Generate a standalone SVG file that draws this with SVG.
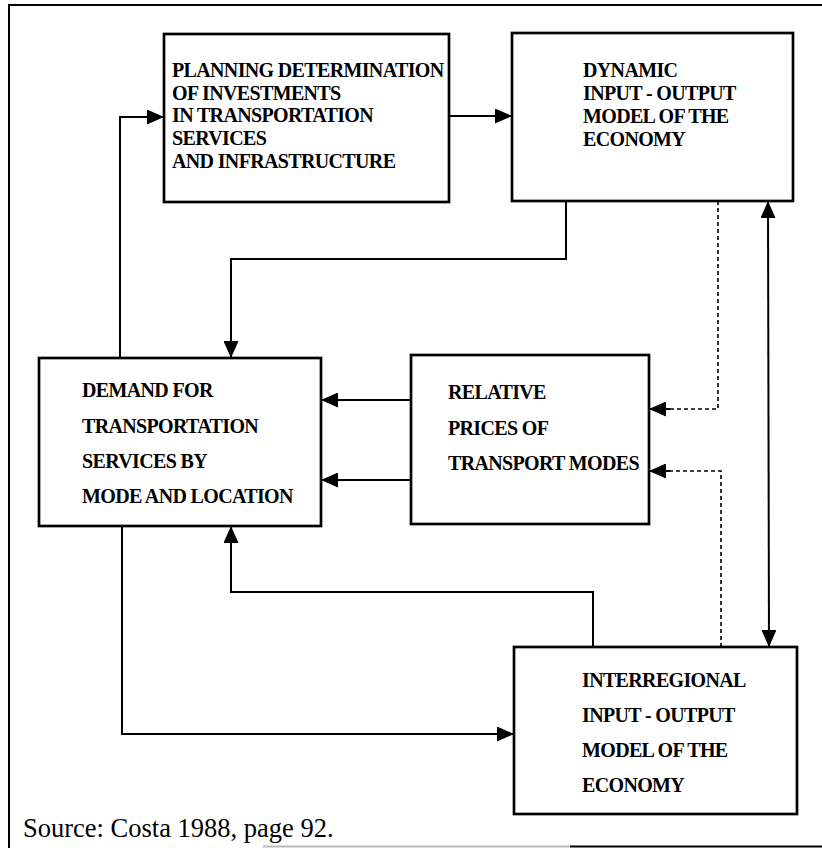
<svg xmlns="http://www.w3.org/2000/svg" width="822" height="848" viewBox="0 0 822 848">
  <style>
    .box { fill: #ffffff; stroke: #000000; stroke-width: 2.7; }
    .lbl { font-family: "Liberation Serif", "Times New Roman", serif; font-weight: bold; font-size: 20px; letter-spacing: -0.65px; fill: #000000; }
    .src { font-family: "Liberation Serif", "Times New Roman", serif; font-size: 26.5px; fill: #000000; }
    .wire { fill: none; stroke: #000000; stroke-width: 2; }
    .dash { fill: none; stroke: #000000; stroke-width: 1.6; stroke-dasharray: 4 3; }
    .frame { fill: none; stroke: #000000; stroke-width: 2; }
  </style>
  <defs>
    <marker id="head" markerUnits="userSpaceOnUse" markerWidth="18" markerHeight="15" refX="17" refY="7.5" orient="auto">
      <path d="M0,0 L17,7.5 L0,15 Z" fill="#000000"/>
    </marker>
    <marker id="tail" markerUnits="userSpaceOnUse" markerWidth="18" markerHeight="15" refX="1" refY="7.5" orient="auto">
      <path d="M18,0 L1,7.5 L18,15 Z" fill="#000000"/>
    </marker>
  </defs>

  <rect width="822" height="848" fill="#ffffff"/>

  <!-- page frame -->
  <g id="frame">
    <path class="frame" d="M9,848 L9,5 L822,5"/>
    <line x1="263" y1="846.5" x2="570" y2="846.5" stroke="#bbbbbb" stroke-width="2"/>
    <line x1="570" y1="846.5" x2="822" y2="846.5" stroke="#000000" stroke-width="2"/>
  </g>

  <!-- connectors -->
  <g id="connectors">
    <!-- demand -> planning -->
    <path class="wire" d="M120,358 L120,117 L164,117" marker-end="url(#head)"/>
    <!-- planning -> dynamic -->
    <path class="wire" d="M449,116 L512,116" marker-end="url(#head)"/>
    <!-- dynamic -> demand -->
    <path class="wire" d="M566,201 L566,259 L231,259 L231,358" marker-end="url(#head)"/>
    <!-- dynamic -> relative prices (dashed) -->
    <path class="dash" d="M718,201 L718,409 L667,409"/>
    <path class="wire" d="M670,409 L649,409" marker-end="url(#head)"/>
    <!-- interregional -> relative prices (dashed) -->
    <path class="dash" d="M721,647 L721,471 L667,471"/>
    <path class="wire" d="M670,471 L649,471" marker-end="url(#head)"/>
    <!-- dynamic <-> interregional -->
    <path class="wire" d="M768,201 L769,647" marker-start="url(#tail)" marker-end="url(#head)"/>
    <!-- relative prices -> demand -->
    <path class="wire" d="M411,400 L321,400" marker-end="url(#head)"/>
    <path class="wire" d="M411,480 L321,480" marker-end="url(#head)"/>
    <!-- interregional -> demand -->
    <path class="wire" d="M593,647 L593,592 L231,592 L231,526" marker-end="url(#head)"/>
    <!-- demand -> interregional -->
    <path class="wire" d="M122,526 L122,734 L514,734" marker-end="url(#head)"/>
  </g>

  <g id="planning">
    <rect class="box" x="164" y="34" width="285" height="168"/>
    <text class="lbl" x="172" y="77">PLANNING DETERMINATION</text>
    <text class="lbl" x="172" y="100">OF INVESTMENTS</text>
    <text class="lbl" x="172" y="122">IN TRANSPORTATION</text>
    <text class="lbl" x="172" y="145">SERVICES</text>
    <text class="lbl" x="172" y="168">AND INFRASTRUCTURE</text>
  </g>

  <g id="dynamic">
    <rect class="box" x="512" y="33" width="281" height="168"/>
    <text class="lbl" x="583" y="77">DYNAMIC</text>
    <text class="lbl" x="583" y="100">INPUT - OUTPUT</text>
    <text class="lbl" x="583" y="123">MODEL OF THE</text>
    <text class="lbl" x="583" y="146">ECONOMY</text>
  </g>

  <g id="demand">
    <rect class="box" x="39" y="358" width="282" height="168"/>
    <text class="lbl" x="82" y="397">DEMAND FOR</text>
    <text class="lbl" x="82" y="433">TRANSPORTATION</text>
    <text class="lbl" x="82" y="468">SERVICES BY</text>
    <text class="lbl" x="82" y="503">MODE AND LOCATION</text>
  </g>

  <g id="relative">
    <rect class="box" x="411" y="355" width="238" height="169"/>
    <text class="lbl" x="448" y="399">RELATIVE</text>
    <text class="lbl" x="448" y="435">PRICES OF</text>
    <text class="lbl" x="448" y="470">TRANSPORT MODES</text>
  </g>

  <g id="interregional">
    <rect class="box" x="514" y="647" width="283" height="167"/>
    <text class="lbl" x="582" y="687">INTERREGIONAL</text>
    <text class="lbl" x="582" y="722">INPUT - OUTPUT</text>
    <text class="lbl" x="582" y="757">MODEL OF THE</text>
    <text class="lbl" x="582" y="792">ECONOMY</text>
  </g>

  <g id="source">
    <text class="src" x="23" y="837">Source: Costa 1988, page 92.</text>
  </g>
</svg>
